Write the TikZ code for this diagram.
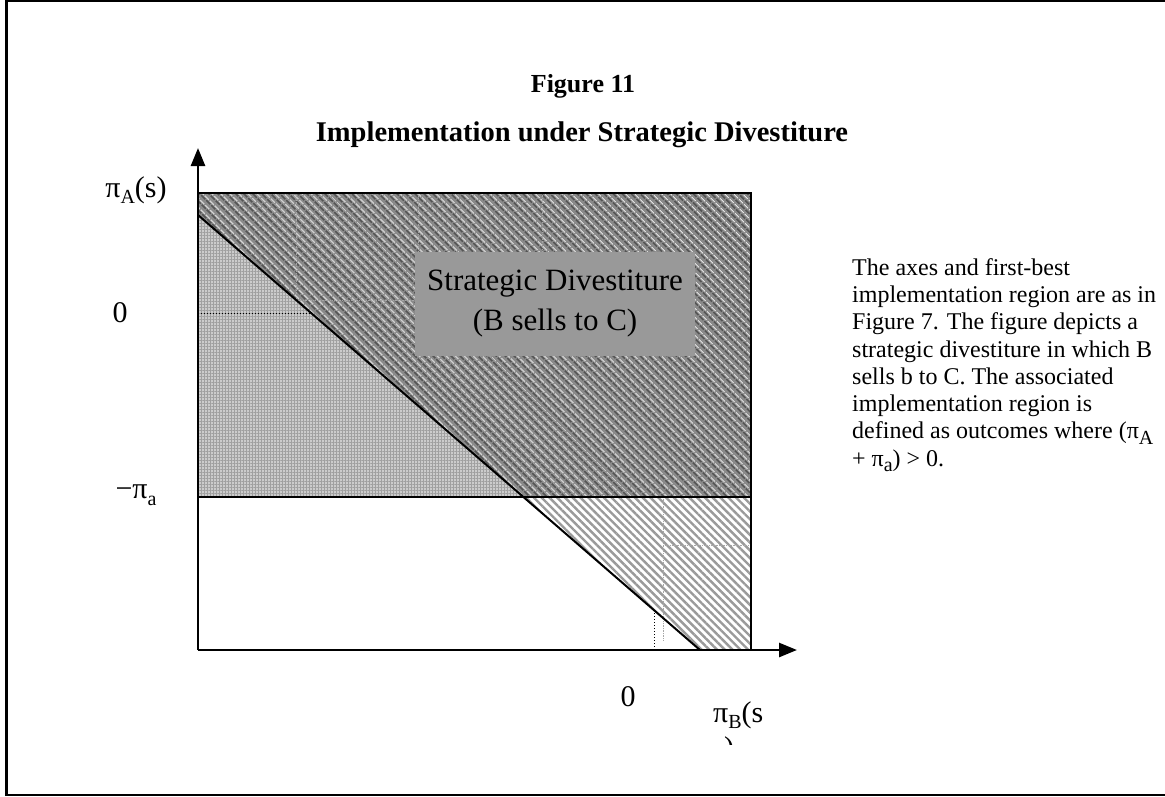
\documentclass[tikz,border=0pt]{standalone}
\usepackage{fontspec}
\setmainfont{Liberation Serif}
\usetikzlibrary{patterns.meta,arrows.meta}
\definecolor{boxgray}{HTML}{999999}
\definecolor{darkbase}{HTML}{8A8A8A}
\definecolor{darkline}{HTML}{555555}
\definecolor{gridbase}{HTML}{CCCCCC}
\definecolor{gridline}{HTML}{A0A0A0}
\definecolor{hatchline}{HTML}{9A9A9A}
\newcommand{\sbs}[1]{\raisebox{-0.22em}{\fontsize{20}{20}\selectfont #1}}
\begin{document}
\begin{tikzpicture}[x=1pt,y=-1pt,
  frame/.style={line width=2.2pt},
  axis/.style={line width=2.6pt,-{Triangle[length=18pt,width=14pt]}},
  border/.style={line width=2.8pt},
  thinborder/.style={line width=2pt},
  diag/.style={line width=2pt},
  dotline/.style={line width=1pt,dotted},
  faint/.style={line width=0.7pt,densely dotted,black!35},
  lbl/.style={font=\fontsize{30}{34}\selectfont,inner sep=0pt},
  ttla/.style={font=\fontsize{26}{30}\selectfont\bfseries,inner sep=0pt,anchor=base},
  ttlb/.style={font=\fontsize{28.5}{33}\selectfont\bfseries,inner sep=0pt,anchor=base},
  side/.style={font=\fontsize{24}{27.3}\selectfont,align=left,inner sep=0pt,anchor=north west}
]
\useasboundingbox (0,0) rectangle (1165,796);
% frame
\draw[frame] (1165,1.1) -- (6.5,1.1) -- (6.5,795) -- (1165,795);
% coordinates
\coordinate (O) at (198,650);
\coordinate (TL) at (198,193);
\coordinate (TR) at (751,193);
\coordinate (MR) at (751,497);
\coordinate (ML) at (198,497);
\coordinate (BR) at (751,650);
\coordinate (D1) at (198,215);
\coordinate (D2) at (523.4,497);
\coordinate (D3) at (700,650);
\coordinate (YT) at (198,148);
\coordinate (XT) at (797,650);
% dark region
\fill[darkbase] (TL) -- (TR) -- (MR) -- (D2) -- (D1) -- cycle;
\fill[pattern={Lines[angle=-45,distance=6.5pt,line width=2.2pt]},pattern color=darkline]
  (TL) -- (TR) -- (MR) -- (D2) -- (D1) -- cycle;
\fill[pattern={Lines[angle=-45,distance=6.5pt,line width=1pt,xshift=3.2pt]},pattern color=white!85!gray]
  (TL) -- (TR) -- (MR) -- (D2) -- (D1) -- cycle;
% grid region
\fill[gridbase] (D1) -- (D2) -- (ML) -- cycle;
\fill[pattern={Hatch[angle=0,distance=3pt,line width=0.8pt]},pattern color=gridline] (D1) -- (D2) -- (ML) -- cycle;
% hatch region
\fill[pattern={Lines[angle=-45,distance=5.5pt,line width=2.4pt]},pattern color=hatchline] (D2) -- (MR) -- (BR) -- (D3) -- cycle;
% faint grid lines
\draw[faint] (296,193) -- (296,300) -- (418,300);
\draw[faint] (418,193) -- (418,300);
\draw[faint] (542,193) -- (542,252);
\draw[faint] (663,497) -- (663,640);
\draw[faint] (663,545) -- (751,545);
% gray box
\node[fill=boxgray,minimum width=280pt,minimum height=104pt,inner sep=0pt,
  font=\fontsize{31}{40}\selectfont,align=center] (box) at (555,303.5)
  {Strategic Divestiture\\(B sells to C)};
% outlines
\draw[border] (TL) -- (TR) -- (MR);
\draw[border] (ML) -- (MR);
\draw[thinborder] (MR) -- (BR);
\draw[diag] (D1) -- (D3);
% dotted lines
\coordinate (Z1) at (310,313);
\coordinate (ZL) at (198,313);
\draw[dotline] (ZL) -- (Z1);
\coordinate (Z2) at (654,610);
\coordinate (Z2b) at (654,650);
\draw[dotline] (Z2) -- (Z2b);
% axes
\draw[axis] (O) -- (YT);
\draw[axis] (O) -- (XT);
% labels
\node[lbl] (ya) at (136,190) {π\sbs{A}(s)};
\node[lbl] (y0) at (120,313) {0};
\node[lbl] (ypa) at (136,495) {−π\sbs{a}};
\node[lbl] (x0) at (628,697) {0};
\node[lbl,anchor=west] (xb) at (713,715) {π\sbs{B}(s};
\begin{scope}
\clip (715,735) rectangle (745,744);
\node[lbl] (paren) at (729,750) {)};
\end{scope}
% titles
\node[ttla] (t1) at (583,92) {Figure 11};
\node[ttlb] (t2) at (582,141) {Implementation under Strategic Divestiture};
% side text
\node[side] (note) at (852,258) {The axes and first-best\\
implementation region are as in\\
Figure 7. The figure depicts a\\
strategic divestiture in which B\\
sells b to C. The associated\\
implementation region is\\
defined as outcomes where (π\sbs{A}\\
+ π\sbs{a}) > 0.};
\end{tikzpicture}
\end{document}
